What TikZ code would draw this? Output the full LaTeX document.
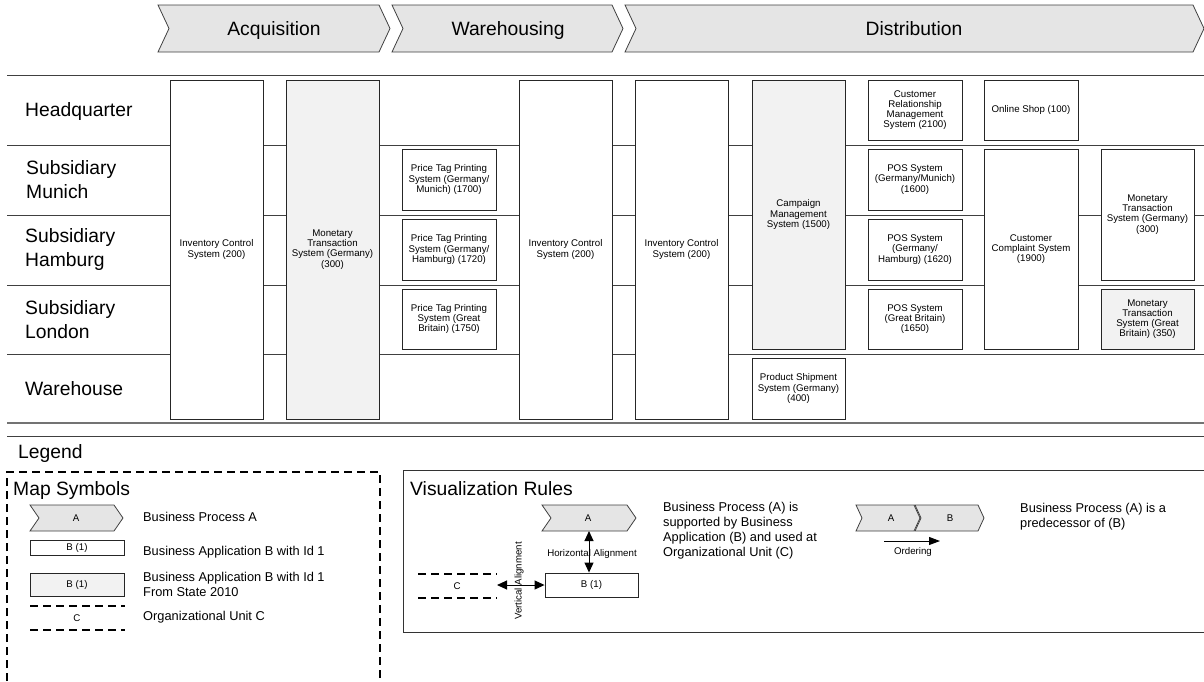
\documentclass[tikz,border=0pt]{standalone}
\usepackage{fontspec}
\setmainfont{Liberation Sans}
\usetikzlibrary{arrows.meta}
\newcommand{\myBig}{\fontsize{19.3}{24}\selectfont}
\newcommand{\myMid}{\fontsize{12.8}{15}\selectfont}
\newcommand{\mySmall}{\fontsize{9.7}{10.2}\selectfont}
\newcommand{\mychev}[5]{\draw[chev] (#1,#3) -- ({#2-#5},#3) -- (#2,{(#3+#4)/2}) -- ({#2-#5},#4) -- (#1,#4) -- ({#1+#5},{(#3+#4)/2}) -- cycle;}
\tikzset{
  app/.style={draw=black!85, line width=0.9pt, fill=white, align=center, inner sep=0pt, font=\mySmall},
  appold/.style={app, fill=black!5},
  chev/.style={draw=black!75, line width=0.8pt, fill=black!10},
  gridline/.style={draw=black!75, line width=1pt},
  lbl/.style={anchor=west, align=left, inner sep=0pt, font=\myBig},
  ltext/.style={anchor=west, align=left, inner sep=0pt, font=\myMid},
  stext/.style={inner sep=0pt, align=center, font=\mySmall},
  orgline/.style={line width=1.8pt, dash pattern=on 8pt off 5pt},
  dbl/.style={{Triangle[length=10pt,width=9pt]}-{Triangle[length=10pt,width=9pt]}, line width=1pt},
}
\begin{document}
\begin{tikzpicture}[x=1pt,y=-1pt]
\useasboundingbox (0,0) rectangle (1204,681);

% ---------- header chevrons ----------
\mychev{158}{390}{5}{52}{11}
\mychev{392}{623}{5}{52}{11}
\mychev{625}{1204}{5}{52}{11}
\node[font=\myBig, inner sep=0pt, anchor=base] (acq) at (274,35.5) {Acquisition};
\node[font=\myBig, inner sep=0pt, anchor=base] (wh) at (508,35.5) {Warehousing};
\node[font=\myBig, inner sep=0pt, anchor=base] (dist) at (914,35.5) {Distribution};

% ---------- row lines ----------
\draw[gridline] (7,75) -- (1204,75);
\draw[gridline] (7,145) -- (1204,145);
\draw[gridline] (7,215) -- (1204,215);
\draw[gridline] (7,285) -- (1204,285);
\draw[gridline] (7,354) -- (1204,354);
\draw[draw=black!55, line width=2pt] (7,423) -- (1204,423);
\draw[gridline] (7,436) -- (1204,436);

% ---------- row labels ----------
\node[lbl, anchor=base west] (hq) at (25,116.5) {Headquarter};
\node[lbl] (mun) at (26,180) {Subsidiary\\Munich};
\node[lbl] (ham) at (25,250) {Subsidiary\\Hamburg};
\node[lbl] (lon) at (25,320) {Subsidiary\\London};
\node[lbl, anchor=base west] (ware) at (25,395) {Warehouse};

% ---------- applications ----------
\node[app, minimum width=93pt, minimum height=339pt] (inv1) at (216.5,249.5) {Inventory Control\\System (200)};
\node[appold, minimum width=93pt, minimum height=339pt] (mon1) at (332.5,249.5) {Monetary\\Transaction\\System (Germany)\\(300)};
\node[app, minimum width=94pt, minimum height=61pt] (ptm) at (449,179.5) {Price Tag Printing\\System (Germany/\\Munich) (1700)};
\node[app, minimum width=94pt, minimum height=61pt] (pth) at (449,249.5) {Price Tag Printing\\System (Germany/\\Hamburg) (1720)};
\node[app, minimum width=94pt, minimum height=60pt] (ptg) at (449,319) {Price Tag Printing\\System (Great\\Britain) (1750)};
\node[app, minimum width=93pt, minimum height=339pt] (inv2) at (565.5,249.5) {Inventory Control\\System (200)};
\node[app, minimum width=93pt, minimum height=339pt] (inv3) at (681.5,249.5) {Inventory Control\\System (200)};
\node[appold, minimum width=93pt, minimum height=269pt] (camp) at (798.5,214.5) {Campaign\\Management\\System (1500)};
\node[app, minimum width=93pt, minimum height=61pt] (ship) at (798.5,388.5) {Product Shipment\\System (Germany)\\(400)};
\node[app, minimum width=94pt, minimum height=60pt] (crm) at (915,110) {Customer\\Relationship\\Management\\System (2100)};
\node[app, minimum width=94pt, minimum height=60pt] (shop) at (1031,110) {Online Shop (100)};
\node[app, minimum width=94pt, minimum height=61pt] (posm) at (915,179.5) {POS System\\(Germany/Munich)\\(1600)};
\node[app, minimum width=94pt, minimum height=61pt] (posh) at (915,249.5) {POS System\\(Germany/\\Hamburg) (1620)};
\node[app, minimum width=94pt, minimum height=60pt] (posg) at (915,319) {POS System\\(Great Britain)\\(1650)};
\node[app, minimum width=94pt, minimum height=200pt] (ccs) at (1031,249) {Customer\\Complaint System\\(1900)};
\node[app, minimum width=93pt, minimum height=131pt] (mong) at (1147.5,214.5) {Monetary\\Transaction\\System (Germany)\\(300)};
\node[appold, minimum width=93pt, minimum height=60pt] (mongb) at (1147.5,319) {Monetary\\Transaction\\System (Great\\Britain) (350)};

% ---------- legend ----------
\node[lbl] (legend) at (18,453) {Legend};

% Map symbols
\draw[orgline] (7,681) -- (7,472) -- (380,472) -- (380,681);
\node[lbl] (mapsym) at (13,490) {Map Symbols};
\mychev{30}{123}{505}{531}{9}
\node[stext] (lgA) at (76,518) {A};
\node[app, minimum width=94pt, minimum height=15pt] (lgB) at (77,548) {B (1)};
\node[appold, minimum width=94pt, minimum height=23pt] (lgBold) at (77,584.5) {B (1)};
\draw[orgline] (30,606) -- (125,606);
\draw[orgline] (30,630) -- (125,630);
\node[stext] (lgC) at (77,618) {C};
\node[ltext] (t1) at (143,517) {Business Process A};
\node[ltext] (t2) at (143,552) {Business Application B with Id 1};
\node[ltext] (t3) at (143,584.5) {Business Application B with Id 1\\From State 2010};
\node[ltext] (t4) at (143,617) {Organizational Unit C};

% Visualization rules
\draw[draw=black!80, line width=1pt] (1204,470) -- (403,470) -- (403,632) -- (1204,632);
\node[lbl] (visrules) at (410,489) {Visualization Rules};
\mychev{542}{636}{505}{531}{9}
\node[stext] (vA) at (588,518) {A};
\node[app, minimum width=93pt, minimum height=24pt] (vB) at (591.5,585) {B (1)};
\draw[orgline] (418,574) -- (497,574);
\draw[orgline] (418,598) -- (497,598);
\node[stext] (vC) at (457,586) {C};
\coordinate (vAs) at (589,531);
\coordinate (vCe) at (497,585);
\draw[dbl] (vAs) -- (vAs |- vB.north);
\draw[dbl] (vCe) -- (vB.west);
\node[stext] (halign) at (592,554) {Horizontal Alignment};
\node[stext, rotate=90] (valign) at (519,581) {Vertical Alignment};
\node[ltext] (t5) at (663,530.5) {Business Process (A) is\\supported by Business\\Application (B) and used at\\Organizational Unit (C)};

% predecessor
\mychev{856}{920}{505}{531}{6}
\mychev{915}{984}{505}{531}{6}
\node[stext] (pA) at (891,518) {A};
\node[stext] (pB) at (950,518) {B};
\coordinate (ordS) at (884,541);
\coordinate (ordE) at (940,541);
\draw[-{Triangle[length=11pt,width=8pt]}, line width=1pt] (ordS) -- (ordE);
\node[stext] (ordering) at (913,552) {Ordering};
\node[ltext] (t6) at (1020,517) {Business Process (A) is a\\predecessor of (B)};
\end{tikzpicture}
\end{document}
